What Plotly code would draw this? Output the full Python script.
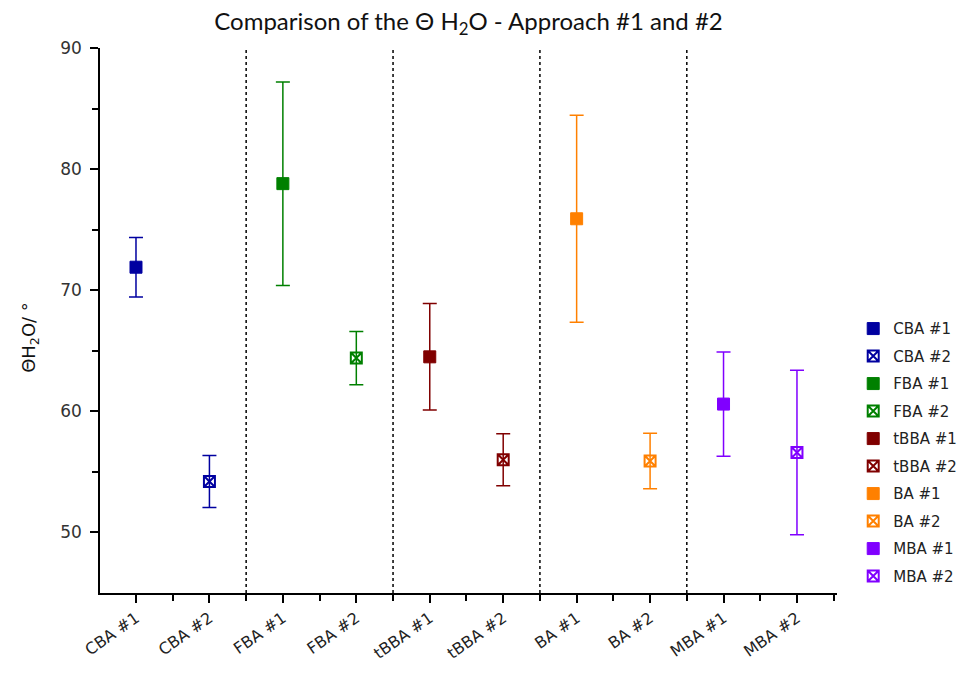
import plotly.graph_objects as go

labels = ["CBA #1", "CBA #2", "FBA #1", "FBA #2", "tBBA #1", "tBBA #2",
          "BA #1", "BA #2", "MBA #1", "MBA #2"]
values = [71.9, 54.2, 78.8, 64.4, 64.5, 56.0, 75.9, 55.9, 60.6, 56.6]
errors = [2.45, 2.15, 8.4, 2.2, 4.4, 2.15, 8.55, 2.3, 4.3, 6.8]
group_colors = {"CBA": "#0000A0", "FBA": "#008000", "tBBA": "#800000",
                "BA": "#FF8000", "MBA": "#8000FF"}
y_ticks = [50, 60, 70, 80, 90]

positions = list(range(1, len(labels) + 1))

fig = go.Figure()
for i, (lab, v, e) in enumerate(zip(labels, values, errors)):
    grp, approach = lab.split(" ")
    col = group_colors[grp]
    if approach == "#1":
        marker = dict(symbol="square", size=12, color=col,
                      line=dict(color=col, width=1))
    else:
        marker = dict(symbol="square-x-open", size=11, color=col,
                      line=dict(color=col, width=2))
    fig.add_trace(go.Scatter(
        x=[positions[i]], y=[v], mode="markers", name=lab,
        legendgroup=lab,
        marker=marker,
        error_y=dict(type="data", array=[e], visible=True, color=col,
                     thickness=1.5, width=7),
    ))

# dotted separators between groups
groups = [l.split(" ")[0] for l in labels]
for i in range(1, len(groups)):
    if groups[i] != groups[i - 1]:
        xb = (positions[i] + positions[i - 1]) / 2
        fig.add_shape(type="line", x0=xb, x1=xb, y0=45, y1=90,
                      xref="x", yref="y",
                      line=dict(color="black", width=1.5, dash="dot"),
                      layer="below")

fig.add_annotation(text="ΘH<sub>2</sub>O/ °", textangle=-90,
                   x=-0.095, y=0.47, xref="paper", yref="paper",
                   xanchor="center", yanchor="middle", showarrow=False,
                   font=dict(family="DejaVu Sans", size=18, color="#111"))

fig.update_layout(
    width=967, height=673,
    margin=dict(l=92, r=138, t=40, b=88, autoexpand=False),
    paper_bgcolor="white", plot_bgcolor="white",
    font=dict(family="DejaVu Sans, Arial", color="#222"),
    title=dict(text="Comparison of the Θ H<sub>2</sub>O - Approach #1 and #2",
               x=0.5, xref="paper", xanchor="center",
               y=1 - 14 / 673, yref="container", yanchor="middle",
               font=dict(family="Lato, Open Sans", size=24, color="#111")),
    showlegend=True,
    legend=dict(x=1.022, xanchor="left", y=0.515, yanchor="top",
                font=dict(family="DejaVu Sans", size=15, color="#222"),
                tracegroupgap=5, bgcolor="rgba(0,0,0,0)",
                itemwidth=30),
)

fig.update_xaxes(
    range=[0.51, 10.545], tickmode="array", tickvals=positions,
    ticktext=labels, tickangle=-35, automargin=False,
    showline=True, linecolor="black", linewidth=1.5,
    ticks="outside", ticklen=8, tickwidth=1.5, tickcolor="black",
    showgrid=False, zeroline=False,
    tickfont=dict(family="DejaVu Sans", size=16, color="#222"),
    minor=dict(tickvals=[p - 0.5 for p in positions] + [positions[-1] + 0.5],
               ticks="outside", ticklen=6, tickwidth=1.5, tickcolor="black"),
)
fig.update_yaxes(
    range=[45, 90], tickmode="array", tickvals=y_ticks, automargin=False,
    showline=True, linecolor="black", linewidth=1.5,
    ticks="outside", ticklen=8, tickwidth=1.5, tickcolor="black",
    showgrid=False, zeroline=False, ticklabelstandoff=5,
    tickfont=dict(family="DejaVu Sans", size=17, color="#333"),
    minor=dict(tickvals=[55, 65, 75, 85], ticks="outside", ticklen=6,
               tickwidth=1.5, tickcolor="black"),
)

fig.write_html("out.html")
